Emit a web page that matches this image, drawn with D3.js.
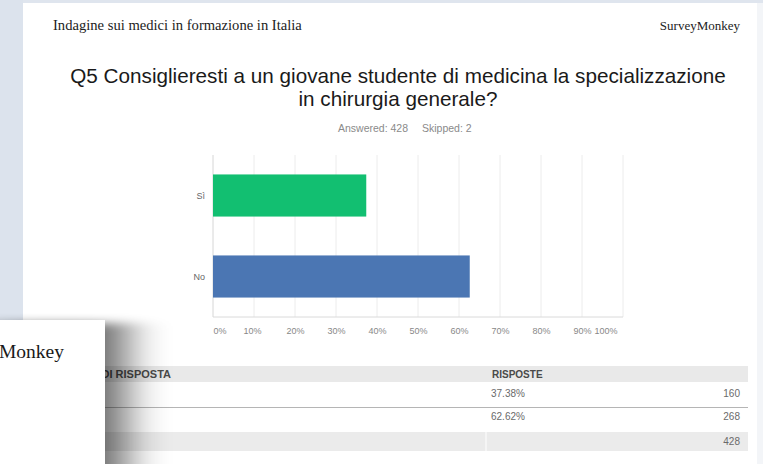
<!DOCTYPE html>
<html>
<head>
<meta charset="utf-8">
<script src="https://cdn.jsdelivr.net/npm/d3@7"></script>
<style>
  body { margin: 0; background: #fff; }
  svg { display: block; }
  .serif { font-family: "Liberation Serif", "DejaVu Serif", serif; }
  .sans { font-family: "Liberation Sans", Arial, sans-serif; }
</style>
</head>
<body>
<div class="content"></div>
<script>
//--> Data
const docTitle = "Indagine sui medici in formazione in Italia";
const brand = "SurveyMonkey";
const questionLines = [
  "Q5 Consiglieresti a un giovane studente di medicina la specializzazione",
  "in chirurgia generale?"
];
const answered = 428;
const skipped = 2;
const answers = ["Sì", "No"];
const percents = [37.38, 62.62];
const counts = [160, 268];
const xTicks = [0, 10, 20, 30, 40, 50, 60, 70, 80, 90, 100];
const barColors = ["#12bf71", "#4b76b3"];

//--> Constants
const width = 763;
const height = 464;
const plot = { left: 213, right: 623, top: 155, bottom: 317 };
const table = { left: 40, right: 748, split: 486 };

const rows = answers.map((a, i) => ({ answer: a, pct: percents[i], count: counts[i] }));

const svg = d3
  .select(".content")
  .append("svg")
  .attr("width", width)
  .attr("height", height);

const defs = svg.append("defs");
defs.append("filter")
  .attr("id", "blur")
  .attr("x", "-50%").attr("y", "-50%")
  .attr("width", "200%").attr("height", "200%")
  .append("feGaussianBlur")
  .attr("stdDeviation", "22 5");

//--> Page background (scanned document look)
svg.append("rect")
  .attr("width", width).attr("height", height)
  .attr("fill", "#ffffff");
svg.append("rect")
  .attr("x", 0).attr("y", 0).attr("width", width).attr("height", 3)
  .attr("fill", "#dfe5ee");
svg.append("rect")
  .attr("x", 0).attr("y", 0).attr("width", 23).attr("height", 320)
  .attr("fill", "#dce3ed");
svg.append("rect")
  .attr("x", 757).attr("y", 3).attr("width", 6).attr("height", height)
  .attr("fill", "#f3f5f8");

//--> Header
svg.append("text")
  .attr("class", "serif")
  .attr("x", 53).attr("y", 30)
  .attr("font-size", "14.6px")
  .attr("fill", "#222")
  .text(docTitle);

svg.append("text")
  .attr("class", "serif")
  .attr("x", 740).attr("y", 30)
  .attr("text-anchor", "end")
  .attr("font-size", "13px")
  .attr("fill", "#222")
  .text(brand);

//--> Question
svg.append("g")
  .selectAll("text")
  .data(questionLines)
  .enter()
  .append("text")
  .attr("class", "sans")
  .attr("x", 398)
  .attr("y", (d, i) => 83 + i * 23)
  .attr("text-anchor", "middle")
  .attr("font-size", "20.7px")
  .attr("fill", "#1a1a1a")
  .text(d => d);

svg.append("text")
  .attr("class", "sans")
  .attr("x", 408).attr("y", 132)
  .attr("text-anchor", "end")
  .attr("font-size", "10.5px")
  .attr("fill", "#8a8a8a")
  .text(`Answered: ${answered}`);

svg.append("text")
  .attr("class", "sans")
  .attr("x", 422).attr("y", 132)
  .attr("font-size", "10.5px")
  .attr("fill", "#8a8a8a")
  .text(`Skipped: ${skipped}`);

//--> Scales
const x = d3.scaleLinear().domain([0, 100]).range([plot.left, plot.right]);
const y = d3.scaleBand()
  .domain(answers)
  .range([plot.top, plot.bottom])
  .paddingInner(0.48)
  .paddingOuter(0.24);

const chart = svg.append("g");

//--> Gridlines
chart.append("g")
  .selectAll("line")
  .data(xTicks)
  .enter()
  .append("line")
  .attr("x1", d => x(d)).attr("x2", d => x(d))
  .attr("y1", plot.top).attr("y2", plot.bottom)
  .attr("stroke", d => (d === 0 ? "#d6d6d6" : "#ececec"))
  .attr("stroke-width", 1);

chart.append("line")
  .attr("x1", plot.left).attr("x2", plot.right)
  .attr("y1", plot.bottom).attr("y2", plot.bottom)
  .attr("stroke", "#dadada");

//--> Bars
chart.append("g")
  .selectAll("rect")
  .data(rows)
  .enter()
  .append("rect")
  .attr("x", x(0))
  .attr("y", d => y(d.answer))
  .attr("width", d => x(d.pct) - x(0))
  .attr("height", y.bandwidth())
  .attr("fill", (d, i) => barColors[i]);

//--> Category labels
chart.append("g")
  .selectAll("text")
  .data(answers)
  .enter()
  .append("text")
  .attr("class", "sans")
  .attr("x", plot.left - 8)
  .attr("y", d => y(d) + y.bandwidth() / 2 + 3)
  .attr("text-anchor", "end")
  .attr("font-size", "9px")
  .attr("fill", "#666")
  .text(d => d);

//--> X axis labels
const xAxis = d3.axisBottom(x)
  .tickValues(xTicks)
  .tickFormat(d => `${d}%`)
  .tickSize(0)
  .tickPadding(11);

const axisG = chart.append("g")
  .attr("transform", `translate(0, ${plot.bottom})`)
  .call(xAxis);

axisG.select(".domain").remove();
axisG.selectAll("text")
  .attr("class", "sans")
  .attr("font-size", "9px")
  .attr("fill", "#888")
  .attr("text-anchor", d => (d === 0 ? "start" : d === 100 ? "end" : "middle"))
  .attr("dx", d => (d === 0 ? 0 : d === 100 ? -6 : d === 10 ? -2 : 0));

//--> Results table
const tbl = svg.append("g").attr("class", "sans");

tbl.append("rect")
  .attr("x", table.left).attr("y", 366)
  .attr("width", table.right - table.left).attr("height", 16)
  .attr("fill", "#e9e9e9");

tbl.append("text")
  .attr("x", 171).attr("y", 377.5)
  .attr("text-anchor", "end")
  .attr("font-size", "11px")
  .attr("font-weight", "bold")
  .attr("fill", "#4a4a4a")
  .text("OPZIONI DI RISPOSTA");

tbl.append("text")
  .attr("x", table.split + 6).attr("y", 377.5)
  .attr("font-size", "10px")
  .attr("font-weight", "bold")
  .attr("fill", "#4a4a4a")
  .text("RISPOSTE");

const rowY = [397, 420];

tbl.selectAll(".row-answer")
  .data(rows)
  .enter()
  .append("text")
  .attr("class", "row-answer")
  .attr("x", 50)
  .attr("y", (d, i) => rowY[i])
  .attr("font-size", "10px")
  .attr("fill", "#666")
  .text(d => d.answer);

tbl.selectAll(".row-pct")
  .data(rows)
  .enter()
  .append("text")
  .attr("class", "row-pct")
  .attr("x", table.split + 5)
  .attr("y", (d, i) => rowY[i])
  .attr("font-size", "10px")
  .attr("fill", "#6a6a6a")
  .text(d => `${d.pct.toFixed(2)}%`);

tbl.selectAll(".row-count")
  .data(rows)
  .enter()
  .append("text")
  .attr("class", "row-count")
  .attr("x", 740)
  .attr("y", (d, i) => rowY[i])
  .attr("text-anchor", "end")
  .attr("font-size", "10px")
  .attr("fill", "#6a6a6a")
  .text(d => d.count);

tbl.append("line")
  .attr("x1", table.left).attr("x2", table.right)
  .attr("y1", 407.5).attr("y2", 407.5)
  .attr("stroke", "#b5b5b5");

tbl.append("rect")
  .attr("x", table.left).attr("y", 432)
  .attr("width", table.right - table.left).attr("height", 19)
  .attr("fill", "#ebebeb");

tbl.append("line")
  .attr("x1", table.split).attr("x2", table.split)
  .attr("y1", 432).attr("y2", 451)
  .attr("stroke", "#ffffff");

tbl.append("text")
  .attr("x", 740).attr("y", 445)
  .attr("text-anchor", "end")
  .attr("font-size", "10px")
  .attr("fill", "#6a6a6a")
  .text(d3.sum(counts));

//--> Overlapping page with soft shadow
svg.append("rect")
  .attr("x", -10).attr("y", 323)
  .attr("width", 135).attr("height", 200)
  .attr("fill", "#000")
  .attr("opacity", 0.6)
  .attr("filter", "url(#blur)");

svg.append("rect")
  .attr("x", -10).attr("y", 320)
  .attr("width", 115).attr("height", height - 320 + 10)
  .attr("fill", "#ffffff");

svg.append("text")
  .attr("class", "serif")
  .attr("x", 64).attr("y", 358)
  .attr("text-anchor", "end")
  .attr("font-size", "19.5px")
  .attr("fill", "#1a1a1a")
  .text("Monkey");
</script>
</body>
</html>
